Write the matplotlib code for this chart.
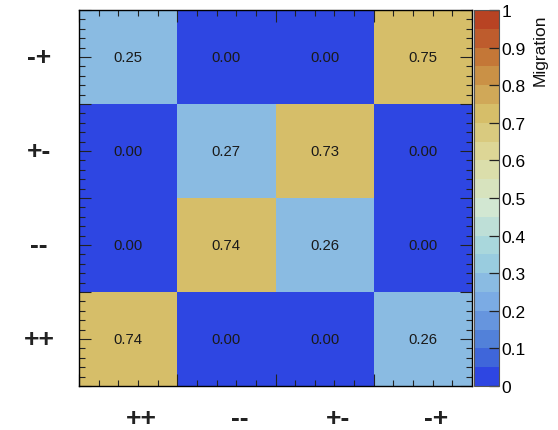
import numpy as np
import matplotlib
matplotlib.use("Agg")
import matplotlib.pyplot as plt
from matplotlib.colors import ListedColormap, BoundaryNorm
import matplotlib.transforms as mtransforms

plt.rcParams['font.family'] = ['Liberation Sans', 'DejaVu Sans']

# Charge-sign categories (x: generated, y: reconstructed), bottom-to-top for y
x_labels = ["++", "--", "+-", "-+"]
y_labels = ["++", "--", "+-", "-+"]

# Migration fractions, one row per y category (bottom row first)
row_pp = [0.74, 0.00, 0.00, 0.26]
row_mm = [0.00, 0.74, 0.26, 0.00]
row_pm = [0.00, 0.27, 0.73, 0.00]
row_mp = [0.25, 0.00, 0.00, 0.749]

# Light-temperature gradient stops
stops = [0.0, 0.125, 0.25, 0.375, 0.5, 0.625, 0.75, 0.875, 1.0]
red = [31, 71, 123, 160, 210, 222, 214, 199, 183]
green = [40, 117, 171, 211, 231, 220, 190, 132, 65]
blue = [234, 214, 228, 222, 210, 160, 105, 60, 34]
n_contours = 20


def gradient_table(n_colors=255):
    table = []
    for g in range(1, len(stops)):
        n = int(np.floor(n_colors * stops[g]) - np.floor(n_colors * stops[g - 1]))
        for c in range(n):
            t = c / n
            table.append((
                (red[g - 1] + t * (red[g] - red[g - 1])) / 255.0,
                (green[g - 1] + t * (green[g] - green[g - 1])) / 255.0,
                (blue[g - 1] + t * (blue[g] - blue[g - 1])) / 255.0,
            ))
    return table


palette = gradient_table()
level_colors = []
for i in range(n_contours):
    k = int((i + 0.99) * len(palette) / n_contours)
    k = min(k, len(palette) - 1)
    level_colors.append(palette[k])

cmap = ListedColormap(level_colors)
levels = np.linspace(0, 1, n_contours + 1)
norm = BoundaryNorm(levels, cmap.N)

matrix = np.array([row_pp, row_mm, row_pm, row_mp])

W, H = 558, 431
fig = plt.figure(figsize=(W / 100, H / 100), dpi=100)
ax = fig.add_axes([79 / W, (H - 387) / H, (472 - 79) / W, (387 - 11) / H])
cax = fig.add_axes([474 / W, (H - 387) / H, (499 - 474) / W, (387 - 11) / H])

xe = np.arange(len(x_labels) + 1)
ye = np.arange(len(y_labels) + 1)
mesh = ax.pcolormesh(xe, ye, matrix, cmap=cmap, norm=norm,
                     edgecolors='none', antialiased=False)

for j in range(matrix.shape[0]):
    for i in range(matrix.shape[1]):
        ax.text(i + 0.5, j + 0.5, f"{matrix[j, i]:.2f}", ha='center',
                va='center', fontsize=10.7, color='#1a1a1a')

ax.set_xlim(0, len(x_labels))
ax.set_ylim(0, len(y_labels))

ax.set_xticks(np.arange(0, 4.01, 1.0))
ax.set_xticks(np.arange(0, 4.01, 0.2), minor=True)
ax.set_yticks(np.arange(0, 4.01, 0.5))
ax.set_yticks(np.arange(0, 4.01, 0.1), minor=True)
ax.tick_params(which='both', direction='in', top=True, right=True,
               labelbottom=False, labelleft=False, color='#222222',
               width=0.8)
ax.tick_params(which='major', length=8.5)
ax.tick_params(which='minor', length=4.6)
for s in ax.spines.values():
    s.set_linewidth(1.0)
    s.set_color('black')

# Category labels below and left of the matrix
xt = mtransforms.offset_copy(ax.get_xaxis_transform(), fig=fig, x=13, y=-32,
                             units='dots')
for i, lab in enumerate(x_labels):
    ax.text(i + 0.5, 0, lab, transform=xt, ha='center', va='center',
            fontsize=19, fontweight='bold', color='#222222')
yt = mtransforms.offset_copy(ax.get_yaxis_transform(), fig=fig, x=-40, y=0,
                             units='dots')
for j, lab in enumerate(y_labels):
    ax.text(0, j + 0.5, lab, transform=yt, ha='center', va='center',
            fontsize=19, fontweight='bold', color='#222222')

cbar = fig.colorbar(mesh, cax=cax, ticks=np.round(np.arange(0, 1.01, 0.1), 1))
cbar.ax.set_yticklabels([f"{v:g}" for v in np.round(np.arange(0, 1.01, 0.1), 1)])
cbar.ax.minorticks_off()
cbar.ax.tick_params(direction='in', length=7.5, width=0.9, color='#222222',
                    labelsize=12.5, pad=2)
cbar.outline.set_edgecolor('#555555')
cbar.outline.set_linewidth(0.8)

fig.text(540 / W, 1 - 14 / H, "Migration", rotation=90, ha='center', va='top',
         fontsize=12.5, color='#111111')

fig.savefig("out.png", dpi=100)
